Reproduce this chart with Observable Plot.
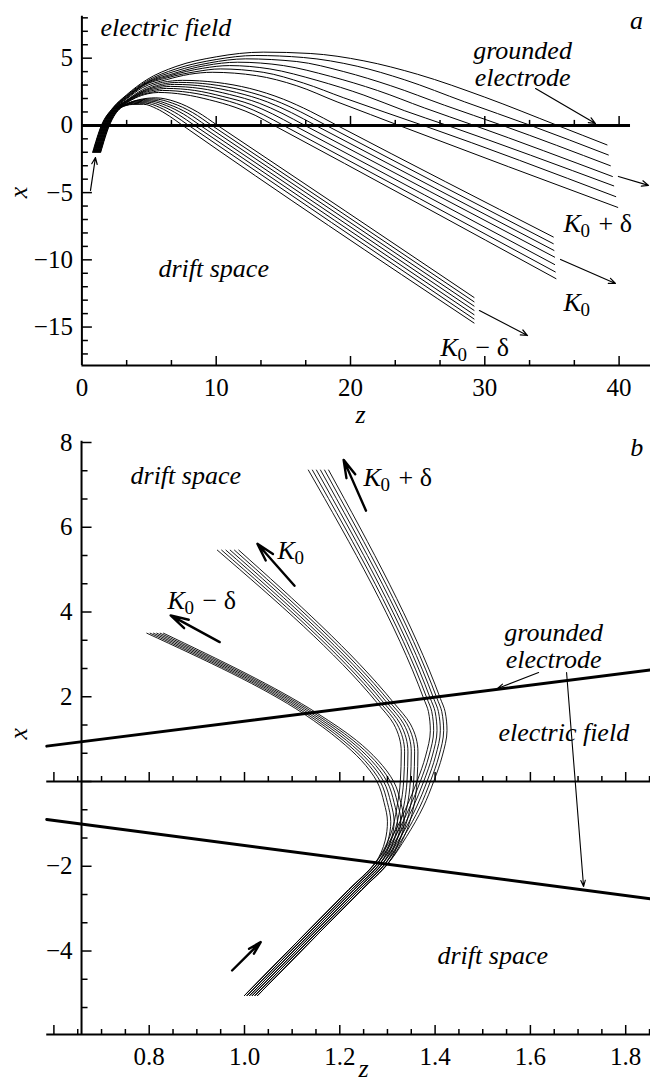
<!DOCTYPE html>
<html><head><meta charset="utf-8">
<script src="https://cdn.jsdelivr.net/npm/d3@7"></script>
<script src="https://cdn.jsdelivr.net/npm/@observablehq/plot@0.6"></script>
<style>
html,body{margin:0;padding:0;background:#fff;overflow:hidden;}
#chart{width:650px;height:1084px;position:relative;background:#fff;overflow:hidden;}
#chart svg{display:block;overflow:visible;}
#chart svg text{font-family:"Liberation Serif","Times New Roman",Times,serif !important;}
</style></head><body><div id="chart"></div>
<script>
const FONT = "Liberation Serif";

// ================= Panel a data (z, x) =================
const aKplus = [
  [[0.80,-2.0],[1.45,0],[2.3,1.3],[3.3,2.25],[4.8,3.38],[7,4.38],[10,5.1],[13.5,5.45],[17,5.35],[21,4.8],[25,3.8],[30,2.1],[35.4,0],[39.1,-1.45]],
  [[0.83,-2.0],[1.48,0],[2.33,1.3],[3.3,2.2],[4.8,3.28],[7,4.2],[10,4.9],[12.9,5.2],[16.5,5.05],[20.5,4.4],[24,3.4],[28.5,1.75],[33.4,0],[39.2,-2.2]],
  [[0.86,-2.0],[1.51,0],[2.36,1.3],[3.3,2.15],[4.8,3.2],[7,4.05],[9.5,4.65],[12.2,4.95],[16,4.75],[19.5,4.0],[23,2.95],[27,1.5],[31.3,0],[39.35,-3.0]],
  [[0.89,-2.0],[1.54,0],[2.39,1.3],[3.3,2.1],[4.7,3.1],[6.8,3.85],[9.2,4.45],[11.6,4.7],[15,4.45],[18.5,3.65],[22,2.6],[25.5,1.3],[29.2,0],[39.5,-3.8]],
  [[0.92,-2.0],[1.57,0],[2.42,1.3],[3.3,2.05],[4.6,3.0],[6.6,3.7],[9,4.25],[11,4.45],[14,4.2],[17.5,3.35],[21,2.25],[24,1.1],[27.2,0],[39.6,-4.5]],
  [[0.95,-2.0],[1.60,0],[2.45,1.3],[3.3,2.0],[4.5,2.9],[6.4,3.55],[8.5,4.0],[10.3,4.2],[13.5,3.95],[16.5,3.15],[19.5,2.05],[22.5,1.0],[25.4,0],[39.75,-5.3]],
  [[0.98,-2.0],[1.63,0],[2.48,1.3],[3.3,1.95],[4.5,2.8],[6.3,3.4],[8,3.8],[9.7,3.95],[13,3.7],[16,2.95],[19,1.75],[21.5,0.8],[23.6,0],[39.9,-6.1]]
];
const aK0 = [
  [[1.01,-2.0],[1.66,0],[2.51,1.3],[3.3,1.85],[4.5,2.65],[6,3.2],[7.5,3.35],[10,3.2],[12.5,2.75],[15,1.95],[17,1.05],[19,0],[35.1,-8.3]],
  [[1.04,-2.0],[1.69,0],[2.54,1.3],[3.3,1.82],[4.5,2.55],[5.9,3.05],[7.2,3.2],[9.6,3.05],[12,2.6],[14.4,1.85],[16.3,1.0],[18.2,0],[35.1,-8.8]],
  [[1.07,-2.0],[1.72,0],[2.57,1.3],[3.3,1.79],[4.4,2.45],[5.7,2.9],[6.9,3.05],[9.2,2.9],[11.5,2.45],[13.8,1.75],[15.6,0.95],[17.4,0],[35.15,-9.3]],
  [[1.10,-2.0],[1.75,0],[2.6,1.3],[3.3,1.76],[4.3,2.35],[5.5,2.75],[6.6,2.9],[8.8,2.75],[11,2.3],[13.2,1.65],[14.9,0.9],[16.6,0],[35.2,-9.8]],
  [[1.13,-2.0],[1.78,0],[2.63,1.3],[3.3,1.72],[4.2,2.25],[5.3,2.6],[6.3,2.75],[8.4,2.6],[10.5,2.15],[12.6,1.55],[14.2,0.85],[15.8,0],[35.2,-10.35]],
  [[1.16,-2.0],[1.81,0],[2.66,1.3],[3.3,1.69],[4.1,2.15],[5.1,2.45],[6.0,2.6],[8,2.45],[10,2.05],[12,1.45],[13.5,0.8],[15,0],[35.25,-10.9]],
  [[1.19,-2.0],[1.84,0],[2.69,1.3],[3.3,1.66],[4.0,2.05],[4.9,2.35],[5.7,2.45],[7.6,2.3],[9.5,1.9],[11.4,1.35],[12.9,0.75],[14.3,0],[35.3,-11.4]]
];
const aKminus = [
  [[1.22,-2.0],[1.87,0],[2.72,1.3],[3.3,1.6],[4.2,1.9],[5.5,2.05],[7,1.75],[8.6,1.0],[10.1,0],[29.2,-12.8]],
  [[1.25,-2.0],[1.9,0],[2.75,1.3],[3.3,1.58],[4.1,1.85],[5.35,1.97],[6.75,1.65],[8.25,0.95],[9.67,0],[29.2,-13.12]],
  [[1.28,-2.0],[1.93,0],[2.78,1.3],[3.3,1.56],[4.0,1.8],[5.2,1.89],[6.5,1.55],[7.9,0.9],[9.24,0],[29.2,-13.44]],
  [[1.31,-2.0],[1.96,0],[2.81,1.3],[3.3,1.54],[3.95,1.74],[5.05,1.81],[6.3,1.47],[7.55,0.85],[8.81,0],[29.2,-13.76]],
  [[1.34,-2.0],[1.99,0],[2.84,1.3],[3.3,1.52],[3.9,1.68],[4.9,1.73],[6.05,1.4],[7.2,0.8],[8.38,0],[29.2,-14.08]],
  [[1.37,-2.0],[2.02,0],[2.87,1.3],[3.3,1.5],[3.85,1.62],[4.75,1.65],[5.8,1.33],[6.85,0.75],[7.95,0],[29.2,-14.4]],
  [[1.40,-2.0],[2.05,0],[2.9,1.3],[3.3,1.48],[3.8,1.56],[4.6,1.57],[5.55,1.25],[6.5,0.7],[7.5,0],[29.2,-14.7]]
];
const aZTicks = [0, 10, 20, 30, 40];
const aZTickLabels = ["0", "10", "20", "30", "40"];
const aXTicks = [-15, -10, -5, 0, 5];
const aXTickLabels = ["\u221215", "\u221210", "\u22125", "0", "5"];
const aTexts = [
  {z: 1.385, x: 7.28, text: "electric field", anchor: "start"},
  {z: 32.81, x: 5.55, text: "grounded", anchor: "middle"},
  {z: 32.81, x: 3.55, text: "electrode", anchor: "middle"},
  {z: 5.70, x: -10.64, text: "drift space", anchor: "start"},
  {z: 41.30, x: 7.80, text: "a", anchor: "middle"}
];
const aKLabels = [
  {z: 35.86, x: -7.30, sign: "+ \u03b4"},
  {z: 35.86, x: -13.17, sign: ""},
  {z: 26.70, x: -16.52, sign: "\u2212 \u03b4"}
];
const aArrows = [
  {z1: 0.64, x1: -4.84, z2: 1.01, x2: -2.39},
  {z1: 33.78, x1: 2.74, z2: 38.24, x2: 0.14},
  {z1: 39.95, x1: -3.80, z2: 42.19, x2: -4.46},
  {z1: 35.64, x1: -9.97, z2: 39.73, x2: -11.76},
  {z1: 29.60, x1: -13.77, z2: 33.18, x2: -15.63}
];

// ================= Panel b data (z, x) =================
const bKplus = [
  [[1.000,-5.05],[1.219,-2.55],[1.274,-1.93],[1.310,-1.3],[1.340,-0.6],[1.362,0],[1.380,0.6],[1.390,1.2],[1.386,1.65],[1.376,1.96],[1.134,7.35]],
  [[1.0055,-5.05],[1.2245,-2.55],[1.2795,-1.93],[1.316,-1.3],[1.347,-0.6],[1.369,0],[1.387,0.6],[1.397,1.2],[1.393,1.65],[1.383,1.96],[1.1425,7.35]],
  [[1.011,-5.05],[1.230,-2.55],[1.285,-1.93],[1.322,-1.3],[1.354,-0.6],[1.376,0],[1.394,0.6],[1.404,1.2],[1.400,1.65],[1.390,1.96],[1.151,7.35]],
  [[1.0165,-5.05],[1.2355,-2.55],[1.2905,-1.93],[1.328,-1.3],[1.361,-0.6],[1.383,0],[1.401,0.6],[1.411,1.2],[1.407,1.65],[1.397,1.96],[1.1595,7.35]],
  [[1.022,-5.05],[1.241,-2.55],[1.296,-1.93],[1.334,-1.3],[1.368,-0.6],[1.390,0],[1.408,0.6],[1.418,1.2],[1.414,1.65],[1.404,1.96],[1.168,7.35]],
  [[1.0275,-5.05],[1.2465,-2.55],[1.3015,-1.93],[1.340,-1.3],[1.375,-0.6],[1.397,0],[1.415,0.6],[1.425,1.2],[1.421,1.65],[1.411,1.96],[1.1765,7.35]]
];
const bK0 = [
  [[1.000,-5.05],[1.219,-2.55],[1.274,-1.93],[1.305,-1.3],[1.320,-0.6],[1.327,0],[1.329,0.7],[1.313,1.36],[1.278,1.86],[0.943,5.46]],
  [[1.0055,-5.05],[1.2245,-2.55],[1.2795,-1.93],[1.311,-1.3],[1.327,-0.6],[1.334,0],[1.336,0.7],[1.320,1.36],[1.285,1.86],[0.952,5.46]],
  [[1.011,-5.05],[1.230,-2.55],[1.285,-1.93],[1.317,-1.3],[1.334,-0.6],[1.341,0],[1.343,0.7],[1.327,1.36],[1.292,1.86],[0.961,5.46]],
  [[1.0165,-5.05],[1.2355,-2.55],[1.2905,-1.93],[1.323,-1.3],[1.341,-0.6],[1.348,0],[1.350,0.7],[1.334,1.36],[1.299,1.86],[0.970,5.46]],
  [[1.022,-5.05],[1.241,-2.55],[1.296,-1.93],[1.329,-1.3],[1.348,-0.6],[1.355,0],[1.357,0.7],[1.341,1.36],[1.306,1.86],[0.979,5.46]],
  [[1.0275,-5.05],[1.2465,-2.55],[1.3015,-1.93],[1.335,-1.3],[1.355,-0.6],[1.362,0],[1.364,0.7],[1.348,1.36],[1.313,1.86],[0.988,5.46]]
];
const bKminus = [
  [[1.000,-5.05],[1.219,-2.55],[1.274,-1.93],[1.295,-1.4],[1.300,-0.95],[1.293,-0.5],[1.278,0],[1.245,0.5],[1.200,0.97],[1.124,1.6],[0.795,3.5]],
  [[1.0055,-5.05],[1.2245,-2.55],[1.2795,-1.93],[1.301,-1.4],[1.307,-0.95],[1.300,-0.5],[1.285,0],[1.252,0.5],[1.207,0.97],[1.130,1.6],[0.802,3.5]],
  [[1.011,-5.05],[1.230,-2.55],[1.285,-1.93],[1.307,-1.4],[1.314,-0.95],[1.307,-0.5],[1.292,0],[1.259,0.5],[1.214,0.97],[1.136,1.6],[0.809,3.5]],
  [[1.0165,-5.05],[1.2355,-2.55],[1.2905,-1.93],[1.313,-1.4],[1.321,-0.95],[1.314,-0.5],[1.299,0],[1.266,0.5],[1.221,0.97],[1.142,1.6],[0.816,3.5]],
  [[1.022,-5.05],[1.241,-2.55],[1.296,-1.93],[1.319,-1.4],[1.328,-0.95],[1.321,-0.5],[1.306,0],[1.273,0.5],[1.228,0.97],[1.148,1.6],[0.823,3.5]],
  [[1.0275,-5.05],[1.2465,-2.55],[1.3015,-1.93],[1.325,-1.4],[1.335,-0.95],[1.328,-0.5],[1.313,0],[1.280,0.5],[1.235,0.97],[1.154,1.6],[0.830,3.5]]
];
const bUpperElectrode = [[0.585, 0.835], [1.86, 2.645]];
const bLowerElectrode = [[0.585, -0.896], [1.86, -2.78]];
const bZTicks = [0.8, 1.0, 1.2, 1.4, 1.6, 1.8];
const bZTickLabels = ["0.8", "1.0", "1.2", "1.4", "1.6", "1.8"];
const bXTicks = [-4, -2, 2, 4, 6, 8];
const bXTickLabels = ["\u22124", "\u22122", "2", "4", "6", "8"];
const bTexts = [
  {z: 0.7608, x: 7.22, text: "drift space", anchor: "start"},
  {z: 1.6487, x: 3.52, text: "grounded", anchor: "middle"},
  {z: 1.6487, x: 2.88, text: "electrode", anchor: "middle"},
  {z: 1.533, x: 1.156, text: "electric field", anchor: "start"},
  {z: 1.405, x: -4.106, text: "drift space", anchor: "start"},
  {z: 1.823, x: 7.88, text: "b", anchor: "middle"}
];
const bKLabels = [
  {z: 1.2497, x: 7.17, sign: "+ \u03b4"},
  {z: 1.0693, x: 5.45, sign: ""},
  {z: 0.8384, x: 4.27, sign: "\u2212 \u03b4"}
];
const bThickArrows = [
  {z1: 0.974, x1: -4.46, z2: 1.034, x2: -3.79},
  {z1: 0.948, x1: 3.29, z2: 0.845, x2: 3.92},
  {z1: 1.105, x1: 4.62, z2: 1.027, x2: 5.61},
  {z1: 1.255, x1: 6.39, z2: 1.208, x2: 7.59}
];
const bThinArrows = [
  {z1: 1.6172, x1: 2.572, z2: 1.531, x2: 2.194},
  {z1: 1.6759, x1: 2.572, z2: 1.7116, x2: -2.478}
];

// ================= helpers =================
function toRows(groups) {
  const rows = [];
  groups.forEach(([name, lines]) => lines.forEach((pts, i) =>
    pts.forEach(([z, x]) => rows.push({id: name + i, z, x}))));
  return rows;
}
function kLabelMarks(list) {
  return [
    Plot.text(list, {x: "z", y: "x", text: () => "K", textAnchor: "start", fontFamily: FONT, fontSize: 26, fontStyle: "italic"}),
    Plot.text(list, {x: "z", y: "x", text: () => "0", textAnchor: "start", dx: 17, dy: 7, fontFamily: FONT, fontSize: 19}),
    Plot.text(list, {x: "z", y: "x", text: "sign", textAnchor: "start", dx: 35, fontFamily: FONT, fontSize: 26})
  ];
}
function textMarks(list) {
  return ["start", "middle"].map(a => Plot.text(list.filter(d => d.anchor === a),
    {x: "z", y: "x", text: "text", textAnchor: a, fontFamily: FONT, fontSize: 26, fontStyle: "italic"}));
}

// ================= Panel a =================
const aW = 650, aH = 430, aML = 81.4, aMR = 31.4, aMT = 16, aMB = 65;
const aZDom = [0, 40], aXDom = [-17.86, 8.1];
const aPpuZ = (aW - aML - aMR) / (aZDom[1] - aZDom[0]);
const aPpuX = (aH - aMT - aMB) / (aXDom[1] - aXDom[0]);
const aBottom = aXDom[0];
const aZMinor = d3.range(0, 13).map(k => k * 10 / 3);
const aXMinor = d3.range(-17, 9);
const isMajA = v => Math.abs(v / 10 - Math.round(v / 10)) < 1e-6;

const rowsA = toRows([["p", aKplus], ["k", aK0], ["m", aKminus]]);

const plotA = Plot.plot({
  width: aW, height: aH,
  marginLeft: aML, marginRight: aMR, marginTop: aMT, marginBottom: aMB,
  x: {domain: aZDom, axis: null},
  y: {domain: aXDom, axis: null},
  style: {fontFamily: FONT, background: "transparent", color: "black", overflow: "visible"},
  marks: [
    Plot.ruleX([0], {y1: aBottom, y2: 8.12, strokeWidth: 2}),
    Plot.ruleY([aBottom], {x1: 0, x2: 42.5, strokeWidth: 2}),
    Plot.ruleY([0], {x1: 0, x2: 40.85, strokeWidth: 3}),
    Plot.link(aXMinor, {x1: 0, x2: d => (d % 5 === 0 ? 10 : 6) / aPpuZ, y1: d => d, y2: d => d, strokeWidth: 1.5}),
    Plot.link(aZMinor.slice(1), {x1: d => d, x2: d => d, y1: aBottom, y2: d => aBottom + (isMajA(d) ? 9.5 : 5.5) / aPpuX, strokeWidth: 1.5}),
    Plot.link(aZMinor.slice(1), {x1: d => d, x2: d => d, y1: 0, y2: d => (isMajA(d) ? 9.5 : 5.5) / aPpuX, strokeWidth: 1.5}),
    Plot.text(aZTicks, {x: d => d, y: () => aBottom, dy: 22, text: (d, i) => aZTickLabels[i], fontFamily: FONT, fontSize: 25}),
    Plot.text(aXTicks, {x: () => 0, y: d => d, dx: -9, textAnchor: "end", text: (d, i) => aXTickLabels[i], fontFamily: FONT, fontSize: 25}),
    Plot.text(["z"], {x: () => 20.74, y: () => -21.5, text: d => d, fontFamily: FONT, fontSize: 26, fontStyle: "italic"}),
    Plot.text(["x"], {x: () => -4.72, y: () => -4.99, text: d => d, rotate: -90, fontFamily: FONT, fontSize: 26, fontStyle: "italic"}),
    Plot.line(rowsA, {x: "z", y: "x", z: "id", curve: "monotone-x", stroke: "black", strokeWidth: 1}),
    Plot.arrow(aArrows, {x1: "z1", y1: "x1", x2: "z2", y2: "x2", stroke: "black", strokeWidth: 1.2, headLength: 9, headAngle: 45}),
    ...textMarks(aTexts),
    ...kLabelMarks(aKLabels)
  ]
});

// ================= Panel b =================
const bW = 650, bH = 654, bML = 148.7, bMR = 24.8, bMT = 12, bMB = 50;
const bZDom = [0.8, 1.8], bXDom = [-5.97, 8.0];
const bPpuZ = (bW - bML - bMR) / (bZDom[1] - bZDom[0]);
const bPpuX = (bH - bMT - bMB) / (bXDom[1] - bXDom[0]);
const bBottom = bXDom[0];
const bAxisZ = 0.658;
const bZMinorK = d3.range(12, 38);
const bXMinorK = d3.range(-8, 13);

const rowsB = toRows([["p", bKplus], ["k", bK0], ["m", bKminus]]);
const electrodes = [
  ...bUpperElectrode.map(([z, x]) => ({id: "u", z, x})),
  ...bLowerElectrode.map(([z, x]) => ({id: "l", z, x}))
];

const plotB = Plot.plot({
  width: bW, height: bH,
  marginLeft: bML, marginRight: bMR, marginTop: bMT, marginBottom: bMB,
  x: {domain: bZDom, axis: null},
  y: {domain: bXDom, axis: null},
  style: {fontFamily: FONT, background: "transparent", color: "black", overflow: "visible"},
  marks: [
    Plot.ruleX([bAxisZ], {y1: bBottom, y2: 8.03, strokeWidth: 2}),
    Plot.ruleY([bBottom], {x1: 0.585, x2: 1.87, strokeWidth: 2}),
    Plot.ruleY([0], {x1: 0.585, x2: 1.87, strokeWidth: 1.8}),
    Plot.link(bXMinorK, {x1: bAxisZ, x2: k => bAxisZ + (k % 3 === 0 ? 10 : 6) / bPpuZ, y1: k => k * 2 / 3, y2: k => k * 2 / 3, strokeWidth: 1.5}),
    Plot.link(bZMinorK, {x1: k => k * 0.05, x2: k => k * 0.05, y1: bBottom, y2: k => bBottom + (k % 4 === 0 ? 9.5 : 5.5) / bPpuX, strokeWidth: 1.5}),
    Plot.link(bZMinorK, {x1: k => k * 0.05, x2: k => k * 0.05, y1: 0, y2: k => (k % 4 === 0 ? 9.5 : 5.5) / bPpuX, strokeWidth: 1.5}),
    Plot.text(bZTicks, {x: d => d, y: () => bBottom, dy: 22, text: (d, i) => bZTickLabels[i], fontFamily: FONT, fontSize: 25}),
    Plot.text(bXTicks, {x: () => bAxisZ, y: d => d, dx: -9, textAnchor: "end", text: (d, i) => bXTickLabels[i], fontFamily: FONT, fontSize: 25}),
    Plot.text(["z"], {x: () => 1.2497, y: () => -6.78, text: d => d, fontFamily: FONT, fontSize: 26, fontStyle: "italic"}),
    Plot.text(["x"], {x: () => 0.5257, y: () => 1.13, text: d => d, rotate: -90, fontFamily: FONT, fontSize: 26, fontStyle: "italic"}),
    Plot.line(electrodes, {x: "z", y: "x", z: "id", stroke: "black", strokeWidth: 3}),
    Plot.line(rowsB, {x: "z", y: "x", z: "id", curve: "monotone-y", stroke: "black", strokeWidth: 0.9}),
    Plot.arrow(bThickArrows, {x1: "z1", y1: "x1", x2: "z2", y2: "x2", stroke: "black", strokeWidth: 2.4, headLength: 13, headAngle: 30, strokeLinejoin: "miter"}),
    Plot.arrow(bThinArrows, {x1: "z1", y1: "x1", x2: "z2", y2: "x2", stroke: "black", strokeWidth: 1.1, headLength: 9, headAngle: 40}),
    ...textMarks(bTexts),
    ...kLabelMarks(bKLabels)
  ]
});

const root = document.getElementById("chart");
root.appendChild(plotA);
root.appendChild(plotB);
root.querySelectorAll("text").forEach(t => t.setAttribute("font-family", "Liberation Serif"));
</script></body></html>
